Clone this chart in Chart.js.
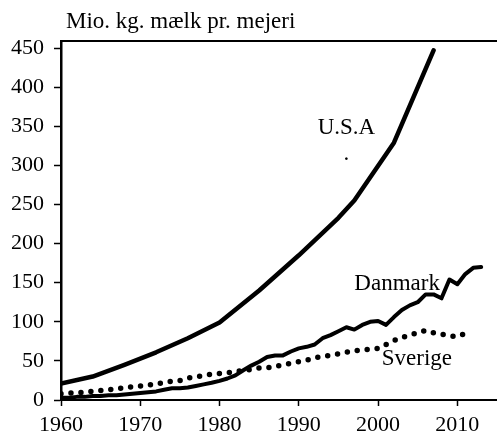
<!DOCTYPE html>
<html>
<head>
<meta charset="utf-8">
<script src="https://cdn.jsdelivr.net/npm/chart.js@4"></script>
<style>
  html, body { margin: 0; padding: 0; background: #fff; }
  #wrap { width: 497px; height: 433px; }
</style>
</head>
<body>
<div id="wrap"><canvas id="milk" width="497" height="433"></canvas></div>
<script>
// USA: mio. kg milk per dairy
var usaYears = [1960, 1964, 1968, 1972, 1976, 1980, 1985, 1990, 1995, 1997, 2002, 2007];
var usaValues = [21, 30, 45, 61, 79, 99, 140, 185, 233, 255, 329, 447];

var dkYears = [1960, 1961, 1962, 1963, 1964, 1965, 1966, 1967, 1968, 1969, 1970, 1971, 1972, 1973, 1974, 1975, 1976, 1977, 1978, 1979,
  1980, 1981, 1982, 1983, 1984, 1985, 1986, 1987, 1988, 1989, 1990, 1991, 1992, 1993, 1994, 1995, 1996, 1997, 1998, 1999,
  2000, 2001, 2002, 2003, 2004, 2005, 2006, 2007, 2008, 2009, 2010, 2011, 2012, 2013];
var dkValues = [3, 3, 4, 4, 5, 5, 6, 6, 7, 8, 9, 10, 11, 13, 15, 15, 16, 18, 20, 22,
  24.5, 27.5, 31.5, 38, 44, 49, 55, 57, 57, 62, 66, 68, 71, 79, 83, 88, 93, 90, 96, 100,
  101, 96, 106, 115, 121, 125, 135, 135, 130, 154, 148, 161, 169, 170];

var seYears = [1960, 1961, 1962, 1963, 1964, 1965, 1966, 1967, 1968, 1969, 1970, 1971, 1972, 1973, 1974, 1975, 1976, 1977, 1978, 1979,
  1980, 1981, 1982, 1983, 1984, 1985, 1986, 1987, 1988, 1989, 1990, 1991, 1992, 1993, 1994, 1995, 1996, 1997, 1998, 1999,
  2000, 2001, 2002, 2003, 2004, 2005, 2006, 2007, 2008, 2009, 2010, 2011];
var seValues = [8, 9, 9, 10, 11, 12, 13, 14, 16, 17, 18, 19, 21, 22, 24, 25, 28, 30, 31, 33,
  34, 35, 36, 38, 39, 41, 41, 43, 45, 47, 49, 51, 54, 56, 57, 59, 61, 63, 64, 65,
  66, 71, 76, 80, 83, 86, 89, 86, 84, 82, 81, 85];

var seriesNames = ["U.S.A", "Danmark", "Sverige"];
var labelYears = [1996, 2002.4, 2004.9];
var labelValues = [340, 141, 45];

var yTicks = [0, 50, 100, 150, 200, 250, 300, 350, 400, 450];
var xTicks = [1960, 1970, 1980, 1990, 2000, 2010];
var yTitle = "Mio. kg. mælk pr. mejeri";

function pairs(xs, ys) {
  return xs.map(function (x, i) { return { x: x, y: ys[i] }; });
}

var serif = "'Liberation Serif', 'Times New Roman', serif";

var textPlugin = {
  id: "texts",
  afterDraw: function (chart) {
    var c = chart.ctx;
    var xs = chart.scales.x, ys = chart.scales.y;
    c.save();
    c.fillStyle = "#000";
    c.font = "23px " + serif;
    c.textAlign = "left";
    c.textBaseline = "alphabetic";
    c.fillText(yTitle, 66, 28);
    c.textAlign = "center";
    for (var i = 0; i < seriesNames.length; i++) {
      c.fillText(seriesNames[i], xs.getPixelForValue(labelYears[i]), ys.getPixelForValue(labelValues[i]));
    }
    // small stray dot under the U.S.A label
    c.fillText(".", xs.getPixelForValue(1996), ys.getPixelForValue(307));
    c.restore();
  }
};

new Chart(document.getElementById("milk"), {
  type: "line",
  data: {
    datasets: [
      {
        label: seriesNames[0],
        data: pairs(usaYears, usaValues),
        borderColor: "#000",
        borderWidth: 4.5,
        pointRadius: 0,
        borderJoinStyle: "round",
        borderCapStyle: "round"
      },
      {
        label: seriesNames[1],
        data: pairs(dkYears, dkValues),
        borderColor: "#000",
        borderWidth: 4,
        pointRadius: 0,
        borderJoinStyle: "round",
        borderCapStyle: "round"
      },
      {
        label: seriesNames[2],
        data: pairs(seYears, seValues),
        borderColor: "#000",
        borderWidth: 5.5,
        borderDash: [0, 10],
        borderCapStyle: "round",
        pointRadius: 0
      }
    ]
  },
  options: {
    responsive: false,
    animation: false,
    layout: { padding: { top: 41, right: 0, bottom: 0, left: 0 } },
    plugins: {
      legend: { display: false },
      tooltip: { enabled: false }
    },
    scales: {
      x: {
        type: "linear",
        min: 1960,
        max: 2015,
        afterFit: function (s) { s.height = 33; },
        afterBuildTicks: function (s) { s.ticks = xTicks.map(function (v) { return { value: v }; }); },
        ticks: {
          includeBounds: false,
          color: "#000",
          padding: 6,
          maxRotation: 0,
          font: { family: serif, size: 22 },
          callback: function (v) { return String(v); }
        },
        grid: { drawOnChartArea: false, tickLength: 6, tickColor: "#000", tickWidth: 1.5 },
        border: { color: "#000", width: 2 }
      },
      // top frame line only
      xTop: {
        type: "linear",
        position: "top",
        min: 1960,
        max: 2015,
        afterFit: function (s) { s.height = 0; },
        ticks: { display: false },
        grid: { display: false, drawTicks: false },
        border: { display: true, color: "#000", width: 2 }
      },
      y: {
        min: 0,
        max: 459,
        afterFit: function (s) { s.width = 61; },
        afterBuildTicks: function (s) { s.ticks = yTicks.map(function (v) { return { value: v }; }); },
        ticks: {
          color: "#000",
          padding: 10,
          font: { family: serif, size: 22 }
        },
        grid: { drawOnChartArea: false, tickLength: 7, tickColor: "#000", tickWidth: 1.5 },
        border: { color: "#000", width: 2.5 }
      }
    }
  },
  plugins: [textPlugin]
});
</script>
</body>
</html>
